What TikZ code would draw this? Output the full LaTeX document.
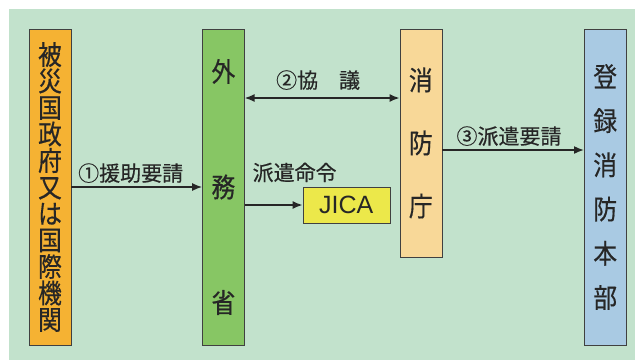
\documentclass[tikz,border=0pt]{standalone}
\usepackage{fontspec}
\usepackage{tikz}
\usetikzlibrary{arrows.meta}
\usetikzlibrary{positioning}
\newfontfamily\jpfont{Noto Sans CJK JP}[FakeBold=0.4]
\newfontfamily\tatefont{Noto Sans CJK JP}[FakeStretch=0.88,FakeBold=0.5]
\newfontfamily\latinfont{Liberation Sans}
\definecolor{bgcol}{HTML}{C2E2CC}
\definecolor{hisaicol}{HTML}{F5B233}
\definecolor{gaimucol}{HTML}{87C664}
\definecolor{shoboucol}{HTML}{F8D898}
\definecolor{tourokucol}{HTML}{A9CAE3}
\definecolor{jicacol}{HTML}{ECE84A}
\tikzset{
    organ/.style={
           rectangle,
           draw=black!75, thin,
           minimum width=42pt,
           inner sep=0pt,
           align=center,
           text=black!85,
           },
    flow/.style={
           -{Latex[length=10pt,width=8pt]},
           draw=black!85,
           line width=1.6pt,
           },
    flowtext/.style={
           font=\jpfont\fontsize{21}{21}\selectfont,
           text=black!85,
           },
}

\begin{document}
\begin{tikzpicture}[x=1pt,y=-1pt]
  \useasboundingbox (0,0) rectangle (635,360);
  \fill[bgcol] (9,9) rectangle (635,360);
  \node[organ,
 fill=hisaicol,
 minimum height=316pt,
 font=\tatefont\fontsize{27}{26.5}\selectfont] (hisai) at (50,187)
 {被\\災\\国\\政\\府\\又\\は\\国\\際\\機\\関};
  \node[organ,
 right=131pt of hisai,
 fill=gaimucol,
 minimum height=316pt,
 font=\tatefont\fontsize{27}{115.5}\selectfont] (gaimu)
 {外\\務\\省};
  \node[organ,
 right=155pt of gaimu.north east, anchor=north west,
 fill=shoboucol,
 minimum height=228pt,
 font=\tatefont\fontsize{27}{63}\selectfont] (shobou)
 {消\\防\\庁};
  \node[organ,
 right=142pt of shobou.north east, anchor=north west,
 fill=tourokucol,
 minimum height=316pt,
 font=\tatefont\fontsize{27}{44.2}\selectfont] (touroku)
 {登\\録\\消\\防\\本\\部};
  \node[organ,
 right=58pt of gaimu.east, yshift=-18pt,
 fill=jicacol,
 minimum width=87pt,
 minimum height=36pt,
 font=\latinfont\fontsize{25}{25}\selectfont] (jica)
 {JICA};
  \node[flowtext,
 above=1pt of jica.north west, xshift=-8pt] (meirei)
 {派遣命令};
 % draw the arrows between the offices
\path
  (hisai) edge[flow]
    node[flowtext,above,xshift=-6pt] {①援助要請}
    (gaimu)
  ([yshift=89pt]gaimu.east) edge[flow,{Latex[length=10pt,width=8pt]}-{Latex[length=10pt,width=8pt]}]
    node[flowtext,above,yshift=4pt,xshift=-4pt] {②協　議}
    ([yshift=45pt]shobou.west)
  (gaimu.east |- jica.west) edge[flow]
    (jica)
  ([yshift=-7pt]shobou.east) edge[flow]
    node[flowtext,above,xshift=-4pt] {③派遣要請}
    ([yshift=37pt]touroku.west)
 ;
\end{tikzpicture}
\end{document}
